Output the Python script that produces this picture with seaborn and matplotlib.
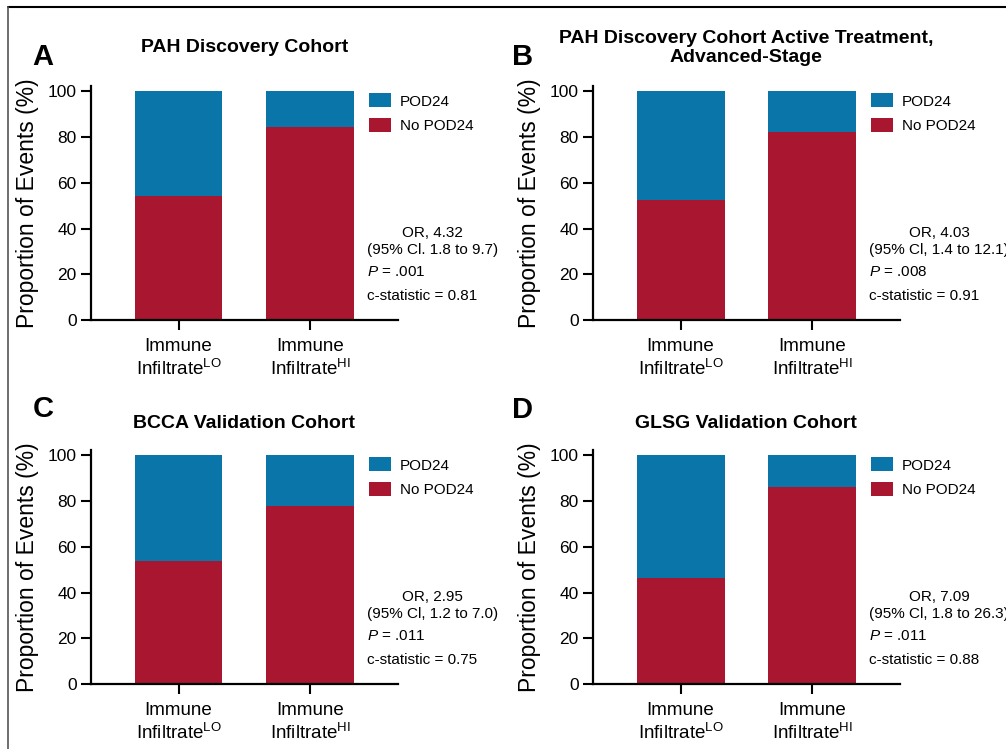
import matplotlib
matplotlib.use("Agg")
import matplotlib.pyplot as plt
from matplotlib.lines import Line2D
import pandas as pd
import seaborn as sns

# ---------------------------------------------------------------
# data
# ---------------------------------------------------------------
panel_letters = ["A", "B", "C", "D"]
panel_titles = [
    "PAH Discovery Cohort",
    "PAH Discovery Cohort Active Treatment,\nAdvanced-Stage",
    "BCCA Validation Cohort",
    "GLSG Validation Cohort",
]
groups = ["LO", "HI"]
group_labels = ["Immune\nInfiltrate$^{\\mathrm{LO}}$", "Immune\nInfiltrate$^{\\mathrm{HI}}$"]
no_pod24 = [[54.3, 84.3], [52.7, 82.0], [53.7, 77.7], [46.4, 86.0]]
pod24 = [[45.7, 15.7], [47.3, 18.0], [46.3, 22.3], [53.6, 14.0]]
or_text = ["OR, 4.32", "OR, 4.03", "OR, 2.95", "OR, 7.09"]
ci_text = ["(95% Cl. 1.8 to 9.7)", "(95% Cl, 1.4 to 12.1)",
           "(95% Cl, 1.2 to 7.0)", "(95% Cl, 1.8 to 26.3)"]
p_text = [".001", ".008", ".011", ".011"]
c_text = ["0.81", "0.91", "0.75", "0.88"]

BLUE = "#0a75a8"
RED = "#a8172f"

sns.set_theme(style="ticks", rc={"text.color": "black", "axes.labelcolor": "black",
                                 "xtick.color": "black", "ytick.color": "black",
                                 "axes.edgecolor": "black"})
plt.rcParams["font.family"] = ["Liberation Sans", "DejaVu Sans"]
plt.rcParams["mathtext.fontset"] = "custom"
plt.rcParams["mathtext.rm"] = "Liberation Sans"
plt.rcParams["mathtext.it"] = "Liberation Sans:italic"

W, H = 1006, 749
fig = plt.figure(figsize=(W / 100, H / 100), dpi=100)

# axes boxes in pixel coords: left, top, right, bottom
boxes = [(90.7, 86.0, 397.7, 320.3), (592.7, 86.0, 900.0, 320.3),
         (90.7, 450.0, 397.7, 684.3), (592.7, 450.0, 900.0, 684.3)]
letter_pos = [(43, 57), (523, 57), (43, 409), (523, 410)]
title_y = [1.166, 1.164, 1.112, 1.112]

for i, (l, t, r, b) in enumerate(boxes):
    ax = fig.add_axes([l / W, 1 - b / H, (r - l) / W, (b - t) / H])
    total = [p + n for p, n in zip(pod24[i], no_pod24[i])]
    df = pd.DataFrame({"group": groups, "total": total, "no": no_pod24[i]})
    sns.barplot(data=df, x="group", y="total", color=BLUE, width=0.667,
                saturation=1, linewidth=0, ax=ax, label="POD24")
    sns.barplot(data=df, x="group", y="no", color=RED, width=0.667,
                saturation=1, linewidth=0, ax=ax, label="No POD24")
    ax.set_xlim(-0.667, 1.665)
    ax.set_ylim(0, 102.3)
    ax.set_yticks([0, 20, 40, 60, 80, 100])
    ax.set_xticks([0, 1])
    ax.set_xticklabels(group_labels, fontsize=13.5, linespacing=1.2)
    ax.tick_params(axis="y", labelsize=12.5, length=7, width=1.5, pad=3)
    ax.tick_params(axis="x", length=7, width=1.5, pad=6)
    ax.set_xlabel("")
    ax.set_ylabel("Proportion of Events (%)", fontsize=16.5, labelpad=6)
    for s in ["left", "bottom"]:
        ax.spines[s].set_linewidth(1.6)
    sns.despine(ax=ax)

    ax.legend(loc="upper left", bbox_to_anchor=(0.885, 0.995), frameon=False,
              fontsize=11, handlelength=1.45, handleheight=1.05,
              labelspacing=0.62, handletextpad=0.6, borderaxespad=0)

    ax.text(0.5, title_y[i], panel_titles[i], transform=ax.transAxes,
            ha="center", va="center", fontsize=14, fontweight="bold",
            linespacing=1.15)
    fig.text(letter_pos[i][0] / W, 1 - letter_pos[i][1] / H, panel_letters[i],
             ha="center", va="center", fontsize=21, fontweight="bold")

    ax.text(0.9, 34.4, or_text[i] + "\n" + ci_text[i], ha="left", va="center",
            multialignment="center", fontsize=11, linespacing=1.25,
            transform=ax.get_yaxis_transform(), clip_on=False)
    ax.text(0.9, 21.0, "$P$ = " + p_text[i], ha="left", va="center",
            fontsize=11, transform=ax.get_yaxis_transform())
    ax.text(0.9, 10.6, "c-statistic = " + c_text[i], ha="left", va="center",
            fontsize=11, transform=ax.get_yaxis_transform())

# outer frame (top and left)
fig.add_artist(Line2D([7.5 / W, 1], [1 - 7 / H, 1 - 7 / H], color="black", lw=1.5))
fig.add_artist(Line2D([7.5 / W, 7.5 / W], [0, 1 - 7 / H], color="#555555", lw=1.2))

fig.savefig("out.png", dpi=100)
